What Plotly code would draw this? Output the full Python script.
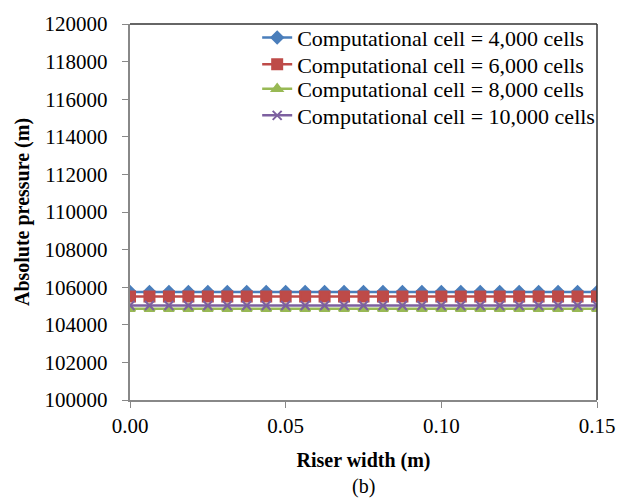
import plotly.graph_objects as go

width_m = [i * 0.00625 for i in range(25)]
labels = ["Computational cell = 4,000 cells", "Computational cell = 6,000 cells",
          "Computational cell = 8,000 cells", "Computational cell = 10,000 cells"]
p4000 = [105750] * 25
p6000 = [105500] * 25
p8000 = [104850] * 25
p10000 = [105030] * 25
y_ticks = list(range(100000, 120001, 2000))
series = [p4000, p6000, p8000, p10000]
colors = ["#4a7ebb", "#be4b48", "#98b954", "#7d60a0"]
symbols = ["diamond", "square", "triangle-up", "x-thin"]
sizes = [9, 10, 9, 9]
legend_ids = ["legend", "legend2", "legend3", "legend4"]
legend_rows = [32, 59, 84, 111]  # pixel row anchors

fig = go.Figure()
for lab, ys, c, s, sz, lid in zip(labels, series, colors, symbols, sizes, legend_ids):
    fig.add_trace(go.Scatter(x=width_m, y=ys, name=lab, mode="lines+markers",
                             line=dict(color=c, width=2.5), legend=lid,
                             marker=dict(symbol=s, size=sz, color=c,
                                         line=dict(color=c, width=2))))

font = "Liberation Serif, Times New Roman, serif"
L, R, T, B, W, H = 130, 27, 18, 103, 627, 503
ph = H - T - B
pw = W - L - R
leg_x = (258 - L) / pw
legends = {}
for lid, row in zip(legend_ids, legend_rows):
    legends[lid] = dict(x=leg_x, y=(H - B - row) / ph, xanchor="left", yanchor="middle",
                        bgcolor="rgba(255,255,255,0)", font=dict(size=22),
                        itemwidth=30, borderwidth=0)
fig.update_layout(
    width=W, height=H, plot_bgcolor="white", paper_bgcolor="white",
    margin=dict(l=L, r=R, t=T, b=B),
    font=dict(family=font, size=21, color="black"),
    showlegend=True,
    annotations=[dict(text="(b)", x=0.5, y=0, xref="paper", yref="paper",
                      yshift=-100, showarrow=False, font=dict(size=20))],
    **legends,
)
fig.update_xaxes(range=[0, 0.15], tickvals=[0, 0.05, 0.10, 0.15],
                 ticktext=["0.00", "0.05", "0.10", "0.15"],
                 showline=True, linecolor="#888", linewidth=1.5, mirror=False,
                 ticks="outside", tickcolor="#888", ticklen=6, showgrid=False,
                 zeroline=False,
                 title=dict(text="<b>Riser width (m)</b>", font=dict(size=20), standoff=16))
fig.update_yaxes(range=[100000, 120000], tickvals=y_ticks,
                 ticktext=[f"{v}\u00a0\u00a0" for v in y_ticks],
                 showline=True, linecolor="#888", linewidth=1.5,
                 ticks="outside", tickcolor="#888", ticklen=6, showgrid=False,
                 zeroline=False,
                 title=dict(text="<b>Absolute pressure (m)</b>", font=dict(size=20), standoff=10))
fig.add_shape(type="line", xref="paper", yref="paper", x0=0, x1=1, y0=1, y1=1,
              line=dict(color="#333", width=1.5))
fig.add_shape(type="line", xref="paper", yref="paper", x0=1, x1=1, y0=0, y1=1,
              line=dict(color="#333", width=1.5))
fig.write_html("out.html")
